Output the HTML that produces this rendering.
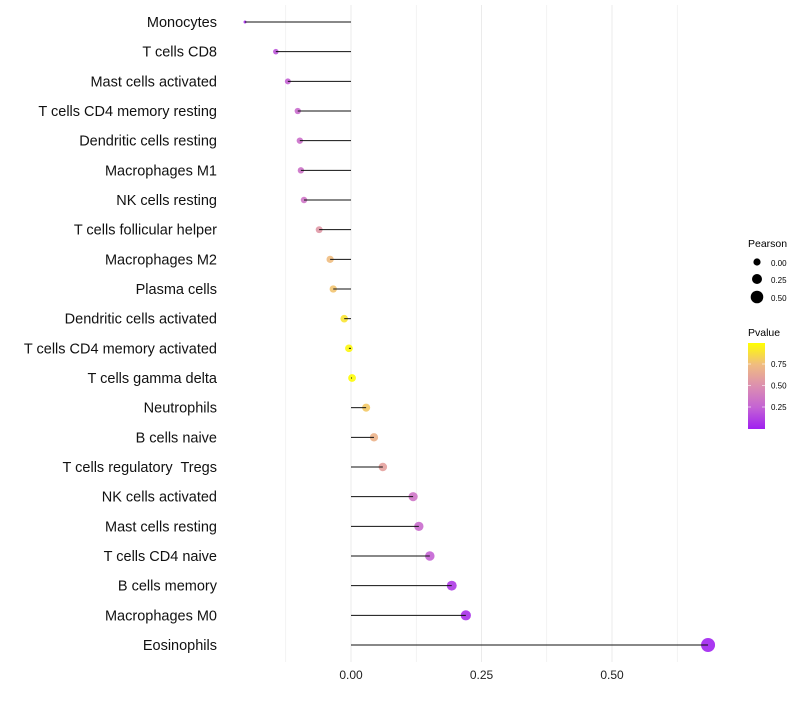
<!DOCTYPE html>
<html><head><meta charset="utf-8"><style>
body{margin:0;background:#fff;font-family:"Liberation Sans",sans-serif}
text{white-space:pre}
</style></head><body>
<svg id="c" width="800" height="700" xmlns="http://www.w3.org/2000/svg" font-family="Liberation Sans, sans-serif">
<defs><linearGradient id="pg" x1="0" y1="1" x2="0" y2="0">
<stop offset="0" stop-color="#a020f0"/><stop offset="0.25" stop-color="#c463d4"/><stop offset="0.5" stop-color="#dc8fb0"/><stop offset="0.75" stop-color="#f0bc80"/><stop offset="1" stop-color="#ffff00"/></linearGradient></defs>
<g id="grid"></g><g id="marks"></g><g id="labels"></g>
<g>
<text x="748" y="247" font-size="10.5">Pearson</text>
<circle cx="757" cy="262" r="3.6" fill="#000"/><text x="771" y="266" font-size="8">0.00</text>
<circle cx="757" cy="279" r="5" fill="#000"/><text x="771" y="283" font-size="8">0.25</text>
<circle cx="757" cy="297" r="6.3" fill="#000"/><text x="771" y="301" font-size="8">0.50</text>
</g>
<g>
<text x="748" y="336" font-size="10.5">Pvalue</text>
<rect x="748" y="343" width="17" height="86" fill="url(#pg)"/>
<g stroke="#fff" stroke-opacity="0.6"><line x1="748" x2="751" y1="364" y2="364"/><line x1="762" x2="765" y1="364" y2="364"/><line x1="748" x2="751" y1="385.5" y2="385.5"/><line x1="762" x2="765" y1="385.5" y2="385.5"/><line x1="748" x2="751" y1="407" y2="407"/><line x1="762" x2="765" y1="407" y2="407"/></g>
<text x="771" y="367" font-size="8">0.75</text><text x="771" y="388.5" font-size="8">0.50</text><text x="771" y="410" font-size="8">0.25</text>
</g>
</svg>
<script>
const cells=["Monocytes","T cells CD8","Mast cells activated","T cells CD4 memory resting","Dendritic cells resting","Macrophages M1","NK cells resting","T cells follicular helper","Macrophages M2","Plasma cells","Dendritic cells activated","T cells CD4 memory activated","T cells gamma delta","Neutrophils","B cells naive","T cells regulatory  Tregs","NK cells activated","Mast cells resting","T cells CD4 naive","B cells memory","Macrophages M0","Eosinophils"];
const pearson=[-0.203,-0.144,-0.121,-0.102,-0.098,-0.096,-0.090,-0.061,-0.040,-0.034,-0.013,-0.004,0.002,0.029,0.044,0.061,0.119,0.130,0.151,0.193,0.220,0.684];
const pvalue=[0.04,0.2,0.25,0.3,0.32,0.33,0.35,0.55,0.75,0.78,0.9,0.97,0.99,0.8,0.7,0.6,0.35,0.3,0.25,0.1,0.06,0.01];
const xTicks=[0,0.25,0.5];
const xTickLabels=["0.00","0.25","0.50"];
const NS="http://www.w3.org/2000/svg";
const x=v=>351+v*522;
const y=i=>22+i*(623/(cells.length-1));
const stops=[[0,[160,32,240]],[0.25,[196,99,212]],[0.5,[220,143,176]],[0.75,[240,188,128]],[1,[255,255,0]]];
function col(p){for(let k=1;k<stops.length;k++){if(p<=stops[k][0]){const a=stops[k-1],b=stops[k],t=(p-a[0])/(b[0]-a[0]);return "rgb("+a[1].map((c,j)=>Math.round(c+(b[1][j]-c)*t)).join(",")+")";}}return "rgb(255,255,0)";}
const rad=v=>Math.sqrt(Math.max(2.25,(v<-0.18?2.25+(v+0.203)*200:15+50*v)));
function mk(t,a,p){const e=document.createElementNS(NS,t);for(const k in a)e.setAttribute(k,a[k]);p.appendChild(e);return e;}
const g=document.getElementById('grid'),m=document.getElementById('marks'),L=document.getElementById('labels');
for(let v=-0.125;v<=0.66;v+=0.125){const gl=mk('line',{x1:x(v),x2:x(v),y1:5,y2:662,stroke:'#ebebeb','stroke-width':(Math.abs((v/0.25)-Math.round(v/0.25))<1e-6)?1:0.6},g);

}
xTicks.forEach((t,i)=>{const tx=mk('text',{x:x(t),y:679,'font-size':12,'text-anchor':'middle',fill:'#222'},L);tx.textContent=xTickLabels[i];

});
cells.forEach((c,i)=>{
const d=mk('circle',{cx:x(pearson[i]),cy:y(i),r:rad(pearson[i]),fill:col(pvalue[i]),'fill-opacity':0.9},m);


const ln=mk('line',{x1:x(0),x2:x(pearson[i]),y1:y(i),y2:y(i),stroke:'#111','stroke-width':1},m);


const t=mk('text',{x:217,y:y(i)+5,'font-size':14.5,'text-anchor':'end',fill:'#111'},L);t.textContent=c;


});
</script>
</body></html>
